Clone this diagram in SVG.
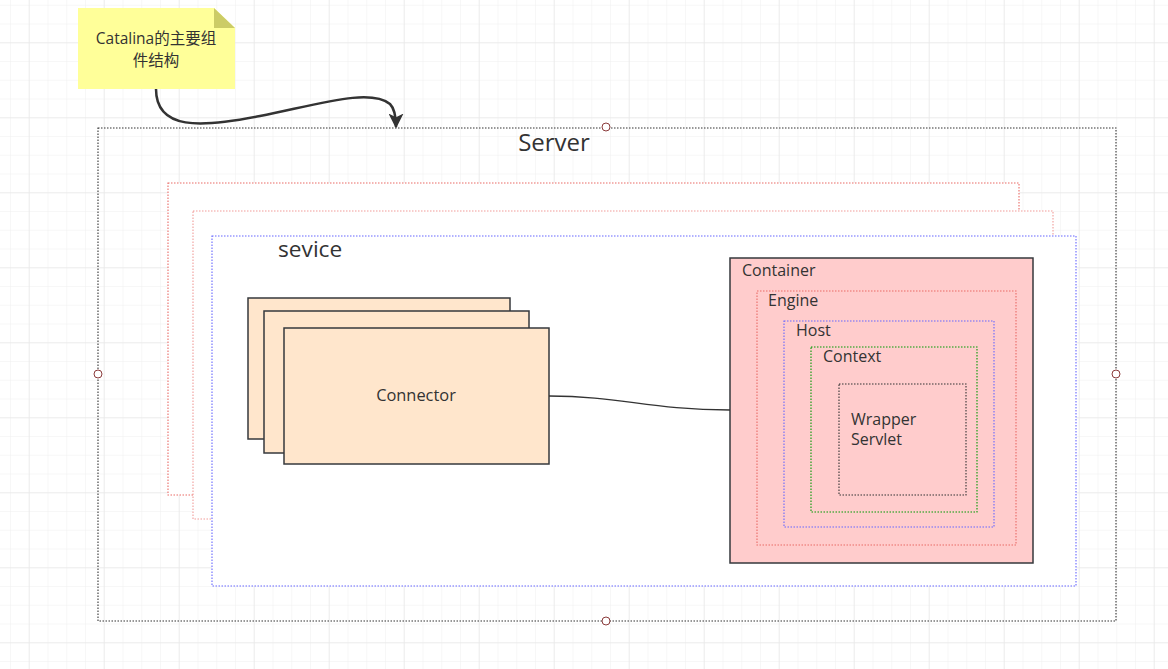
<svg xmlns="http://www.w3.org/2000/svg" width="1168" height="669" viewBox="0 0 1168 669">
<defs>
<pattern id="gMinor" x="10" y="4.8" width="18.75" height="18.75" patternUnits="userSpaceOnUse">
<path d="M0,0 H18.75 M0,0 V18.75" fill="none" stroke="#f0f0f0" stroke-width="1"/>
</pattern>
<pattern id="gMajor" x="28.7" y="42.3" width="75" height="75" patternUnits="userSpaceOnUse">
<path d="M0,0 H75 M0,0 V75" fill="none" stroke="#e3e3e3" stroke-width="1"/>
</pattern>
<marker id="arr" viewBox="0 0 10 10" refX="9" refY="5" markerWidth="6" markerHeight="6" orient="auto" markerUnits="strokeWidth">
<path d="M0,0 L10,5 L0,10 L2.5,5 Z" fill="#333333"/>
</marker>
</defs>
<style>
text{font-family:"Open Sans","Noto Sans","Noto Sans CJK SC",sans-serif;fill:#333333}
.dot{fill:none;stroke-width:1.1;stroke-dasharray:1.5 1.5}
.wbox{fill:#ffffff;stroke-width:1.1;stroke-dasharray:1.5 1.5}
.conn{fill:#ffe6cc;stroke:#36393d;stroke-width:1.5}
.pt{fill:#ffffff;stroke:#8b3b3b;stroke-width:1}
.lbl{font-size:16px}
</style>
<rect width="1168" height="669" fill="#ffffff"/>
<rect width="1168" height="669" fill="url(#gMinor)"/>
<rect width="1168" height="669" fill="url(#gMajor)"/>

<g id="server">
<rect x="98" y="128" width="1018" height="493" fill="#ffffff" stroke="#333333" class="dot"/>
<text x="554" y="151" font-size="24" text-anchor="middle">Server</text>
</g>

<g id="service1">
<rect x="168" y="183" width="851" height="312" class="wbox" stroke="#ea6b66"/>
</g>
<g id="service2">
<rect x="193" y="211" width="860" height="308" class="wbox" stroke="#f19c99"/>
</g>
<g id="service3">
<rect x="212" y="236" width="864" height="350" class="wbox" stroke="#6666ff"/>
<text x="278" y="257" font-size="22.7">sevice</text>
</g>

<g id="connector">
<rect x="248" y="298" width="262" height="141" class="conn"/>
<rect x="264" y="311" width="265" height="142" class="conn"/>
<rect x="284" y="328" width="265" height="136" class="conn"/>
<text x="416" y="401" font-size="16.4" text-anchor="middle">Connector</text>
</g>

<g id="container">
<rect x="730" y="258" width="303" height="305" fill="#ffcccc" stroke="#36393d" stroke-width="1.5"/>
<text x="742" y="276" class="lbl">Container</text>
</g>
<g id="engine">
<rect x="757" y="291" width="259" height="254" class="dot" stroke="#ea6b66"/>
<text x="768" y="306" class="lbl">Engine</text>
</g>
<g id="host">
<rect x="784" y="321" width="210" height="206" class="dot" stroke="#6666ff"/>
<text x="796" y="336" class="lbl">Host</text>
</g>
<g id="context">
<rect x="811" y="347" width="166" height="165" class="dot" stroke="#009900"/>
<text x="823" y="362" class="lbl">Context</text>
</g>
<g id="wrapper">
<rect x="839" y="384" width="127" height="111" class="dot" stroke="#333333"/>
<text x="851" y="425" class="lbl">Wrapper</text>
<text x="851" y="445" class="lbl">Servlet</text>
</g>

<g id="note">
<path d="M78,8 H214 L235,28 V89 H78 Z" fill="#ffff99"/>
<path d="M214,8 V28 H235 Z" fill="#cccc66"/>
<text x="156" y="44" font-size="15.5" text-anchor="middle">Catalina的主要组</text>
<text x="156" y="66" font-size="15.5" text-anchor="middle">件结构</text>
</g>

<g id="connectors">
<path d="M156,89 C156,130 200,128 260,116 C320,104 370,88 390,104 C394,108 396,114 396,127" fill="none" stroke="#333333" stroke-width="2.5" marker-end="url(#arr)"/>
<path d="M549,396 C620,396 650,410 730,410" fill="none" stroke="#333333" stroke-width="1.3"/>
</g>

<g id="points">
<circle cx="606" cy="127" r="4" class="pt"/>
<circle cx="98" cy="374" r="4" class="pt"/>
<circle cx="1116" cy="374" r="4" class="pt"/>
<circle cx="606" cy="621" r="4" class="pt"/>
</g>
</svg>
